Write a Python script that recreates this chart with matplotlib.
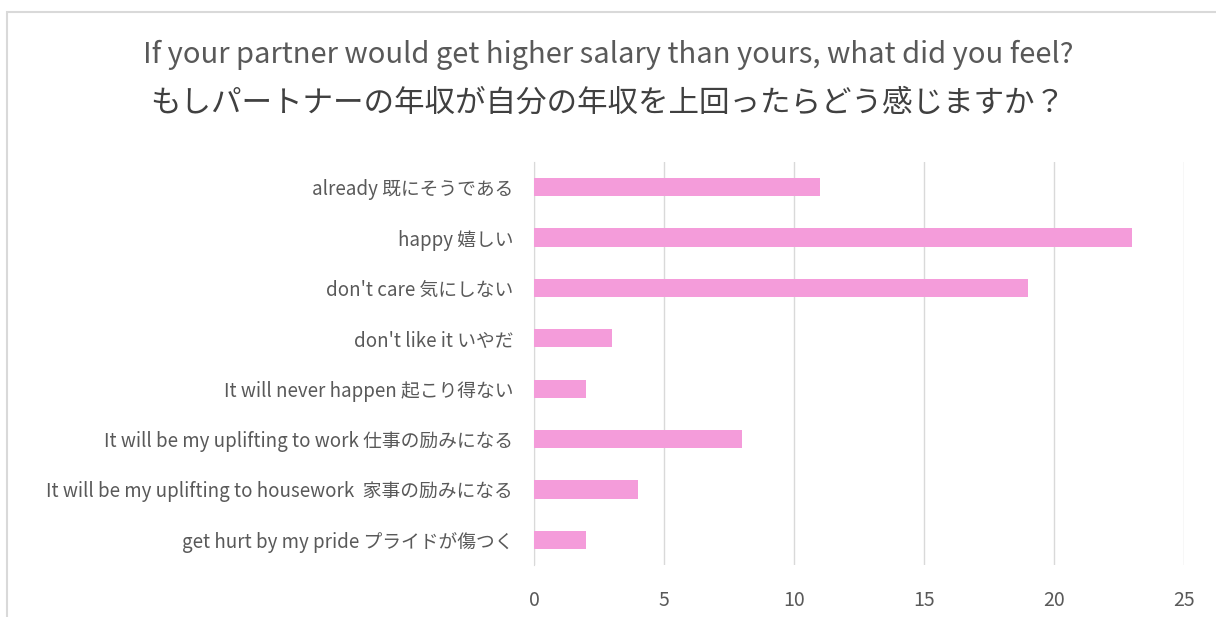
import matplotlib.pyplot as plt
from matplotlib.patches import Rectangle

plt.rcParams['font.family'] = ['Noto Sans CJK JP', 'DejaVu Sans']

labels = ['already 既にそうである', 'happy 嬉しい', "don't care 気にしない",
          "don't like it いやだ", 'It will never happen 起こり得ない',
          'It will be my uplifting to work 仕事の励みになる',
          'It will be my uplifting to housework  家事の励みになる',
          'get hurt by my pride プライドが傷つく']
counts = [11, 23, 19, 3, 2, 8, 4, 2]
xticks = [0, 5, 10, 15, 20, 25]

W, H = 1216, 617
fig = plt.figure(figsize=(W / 100, H / 100), dpi=100)
ax = fig.add_axes([534 / W, 1 - 565 / H, 650 / W, 403 / H])

ypos = list(range(len(labels)))
ax.barh(ypos, counts, height=0.36, color='#F49CDA', zorder=3)
ax.set_ylim(len(labels) - 0.5, -0.5)
ax.set_xlim(0, 25)
ax.set_xticks(xticks)
ax.set_yticks(ypos)
ax.set_yticklabels(labels)
ax.grid(axis='x', color='#D9D9D9', linewidth=1, zorder=0)
for s in ['top', 'right', 'bottom']:
    ax.spines[s].set_visible(False)
ax.spines['left'].set_color('#D9D9D9')
ax.tick_params(length=0, colors='#595959')
ax.tick_params(axis='y', pad=15, labelsize=13.5)
ax.tick_params(axis='x', pad=18, labelsize=14)

fig.text(0.5, 1 - 55 / H, 'If your partner would get higher salary than yours, what did you feel?',
         ha='center', va='center', fontsize=21, color='#595959')
fig.text(0.5, 1 - 103 / H, 'もしパートナーの年収が自分の年収を上回ったらどう感じますか？',
         ha='center', va='center', fontsize=22, color='#404040')

fig.patches.append(Rectangle((7 / W, -0.1), 1.2, 1.1 - 12 / H, transform=fig.transFigure,
                             fill=False, edgecolor='#D9D9D9', linewidth=1.5))

fig.savefig('out.png', dpi=100)
